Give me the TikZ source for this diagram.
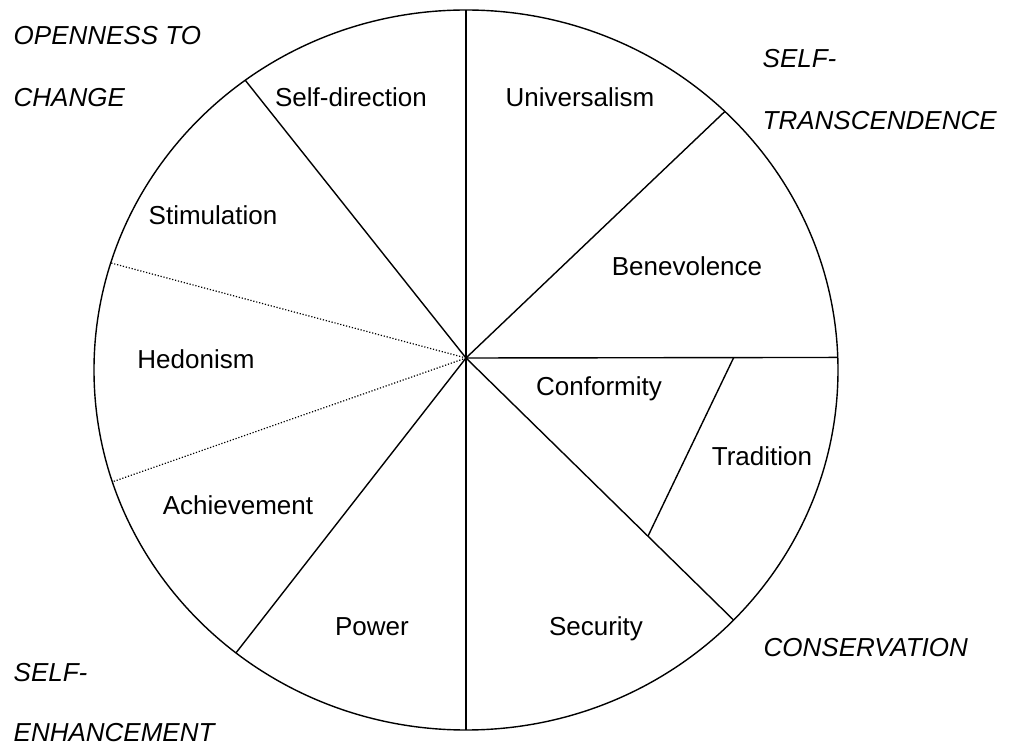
\documentclass[tikz,border=0pt]{standalone}
\usepackage{fontspec}
\setmainfont{Liberation Sans}
\usetikzlibrary{calc}

\begin{document}
\begin{tikzpicture}[x=1pt,y=1pt,line width=1.4pt]
    \tikzstyle{value}=[inner sep=0pt,text height=18.6pt,text depth=0pt,font=\fontsize{26}{31}\selectfont]
    \tikzstyle{group}=[value,anchor=west,font=\fontsize{26}{31}\selectfont\itshape]
    \tikzstyle{split}=[line width=1.2pt,dash pattern=on 1.2pt off 1.8pt]

    \useasboundingbox (-466,-379) rectangle (545,370);

    % the wheel
    \draw (0,0) ellipse [x radius=372, y radius=360];

    \coordinate (hub) at (0,12);
    \foreach \i/\a in {1/90,2/45.9,3/2,4/316,5/270,6/231.8,7/198.1,8/162.7,9/126.4} {
        \coordinate (r\i) at (\a:372 and 360);
    }

    \foreach \i in {1,2,3,4,5,6,9} {
        \draw (hub) -- (r\i);
    }
    \foreach \i in {7,8} {
        \draw[split] (hub) -- (r\i);
    }

    % conformity / tradition
    \coordinate (t1) at ($(hub)!0.72!(r3)$);
    \coordinate (t2) at ($(hub)!0.68!(r4)$);
    \draw (t1) -- (t2);

    % the ten values
    \node[value] (sd)  at (-115,273) {Self-direction};
    \node[value] (uni) at (114,273)  {Universalism};
    \node[value] (sti) at (-253,155) {Stimulation};
    \node[value] (ben) at (221,104)  {Benevolence};
    \node[value] (hed) at (-270,11)  {Hedonism};
    \node[value] (con) at (133,-16)  {Conformity};
    \node[value] (tra) at (296,-86)  {Tradition};
    \node[value] (ach) at (-228,-135) {Achievement};
    \node[value] (pow) at (-94,-256) {Power};
    \node[value] (sec) at (130,-256) {Security};

    % higher order groups
    \node[group] (oc1) at (-453,335)  {OPENNESS TO};
    \node[group] (oc2) at (-453,273)  {CHANGE};
    \node[group] (st1) at (296,312)   {SELF-};
    \node[group] (st2) at (296,250)   {TRANSCENDENCE};
    \node[group] (cs)  at (297,-277)  {CONSERVATION};
    \node[group] (se1) at (-453,-302) {SELF-};
    \node[group] (se2) at (-453,-362) {ENHANCEMENT};
\end{tikzpicture}
\end{document}
